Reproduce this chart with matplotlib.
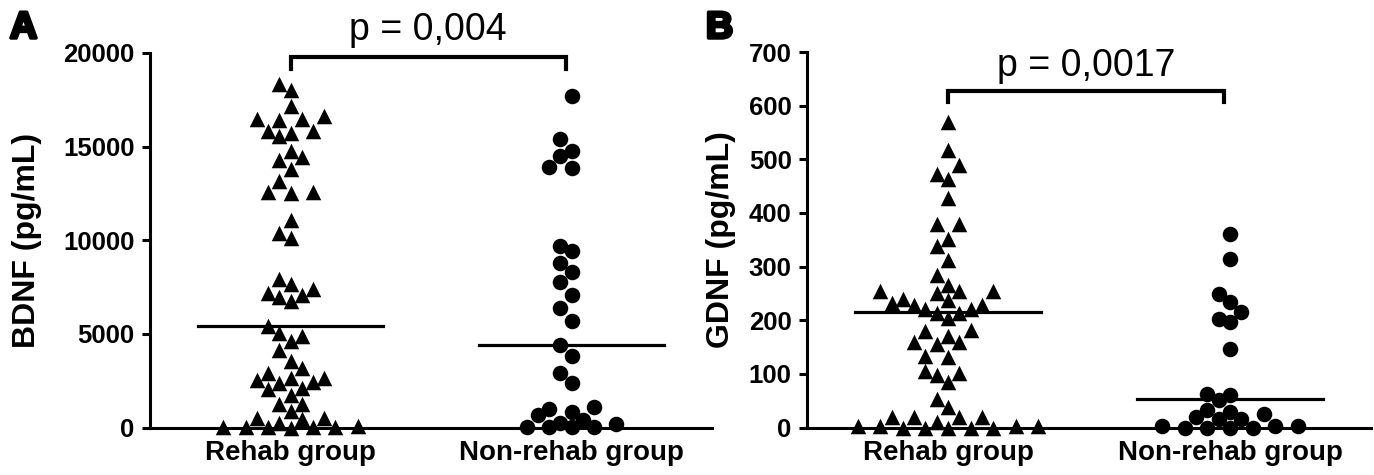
import numpy as np
import matplotlib
matplotlib.use('Agg')
from matplotlib import pyplot as plt
import matplotlib.patheffects as pe

plt.rcParams['font.family'] = ['Liberation Sans', 'DejaVu Sans']

# Data
groups = ["Rehab group", "Non-rehab group"]

bdnf_rehab = [18330, 18050, 17150, 16620, 16500, 16410, 16500, 15820, 15750, 15550,
              15820, 14420, 14270, 14770, 13790, 13150, 12580, 12500, 12580, 11070,
              10100, 10400, 7690, 7160, 6980, 6770, 7070, 7390, 7910, 5420,
              5030, 4630, 4880, 4140, 3160, 3550, 2390, 2040, 2660, 2530,
              2620, 2890, 2410, 2090, 1730, 1250, 1250, 900, 490, 440,
              260, 490, 80, 50, 20, 0, 20, 30, 50]
bdnf_nonrehab = [17700, 15430, 14770, 14500, 13920, 13880, 9700, 9430, 8790, 8300,
                 7750, 7050, 6360, 5680, 4420, 3830, 2920, 2390, 1080, 840,
                 670, 1000, 400, 190, 40, 30, 40, 50, 220]
bdnf_medians = [5420, 4420]

gdnf_rehab = [570, 518, 489, 473, 463, 427, 379, 379, 352, 339,
              313, 284, 266, 254, 250, 254, 254, 237, 240, 232,
              229, 221, 229, 214, 205, 214, 220, 182, 171, 159,
              156, 159, 179, 134, 131, 106, 97, 101, 84, 53,
              39, 20, 20, 20, 20, 10, 0, 0, 0, 3,
              2, 2, 2, 0, 0]
gdnf_nonrehab = [361, 315, 248, 234, 215, 203, 197, 147, 61, 63,
                 51, 33, 25, 16, 16, 20, 28, 2, 2, 0,
                 0, 0, 0, 2]
gdnf_medians = [215, 53]

p_bdnf = "p = 0,004"
p_gdnf = "p = 0,0017"


def swarm(ax, values, center, ymax, slot=0.08, rx=11.5, ry=15.0):
    """ Simple beeswarm: spread points sideways in half-slot steps until they stop overlapping.
    Overlap is tested with an ellipse (rx, ry in pixels) so rows spread out sideways. """
    bbox = ax.get_window_extent()
    xpx = bbox.width / 2.0          # pixels per x unit (xlim spans 2 units)
    ypx = bbox.height / ymax        # pixels per y unit
    steps = [0]
    for k in range(1, 30):
        steps += [-k * 0.5, k * 0.5]
    placed = []
    xs = np.zeros(len(values))
    for i in np.argsort(values, kind="stable"):
        y = values[i] * ypx
        for s in steps:
            x = s * slot * xpx
            if all(((x - px) / rx) ** 2 + ((y - py) / ry) ** 2 >= 1 for px, py in placed):
                break
        placed.append((x, y))
        xs[i] = center + x / xpx
    return xs


def style_axis(ax, ymax, yticks):
    ax.set_xlim(-0.5, 1.5)
    ax.set_ylim(0, ymax)
    ax.set_yticks(yticks)
    ax.set_xticks([0, 1])
    ax.set_xticklabels(groups, fontsize=20, fontweight="bold")
    for lab in ax.get_yticklabels():
        lab.set_fontsize(18.5)
        lab.set_fontweight("bold")
    ax.spines["top"].set_visible(False)
    ax.spines["right"].set_visible(False)
    ax.spines["left"].set_linewidth(2.2)
    ax.spines["bottom"].set_linewidth(2.2)
    ax.tick_params(axis="y", length=6, width=2.2, pad=5)
    ax.tick_params(axis="x", length=4, width=2.2, pad=5)


def panel(ax, rehab, nonrehab, medians, ymax, yticks, ylabel, label_x, ptext, bracket_y, drop, text_y):
    style_axis(ax, ymax, yticks)
    ax.set_ylabel(ylabel, fontsize=23, fontweight="bold")
    ax.yaxis.set_label_coords(label_x, 0.5)
    x0 = swarm(ax, rehab, 0, ymax)
    x1 = swarm(ax, nonrehab, 1, ymax)
    ax.scatter(x0, rehab, marker="^", s=125, color="black", linewidths=0, clip_on=False, zorder=3)
    ax.scatter(x1, nonrehab, marker="o", s=125, color="black", linewidths=0, clip_on=False, zorder=3)
    for i, m in enumerate(medians):
        ax.plot([i - 0.33, i + 0.33], [m, m], color="black", lw=2.3, zorder=2)
    # significance bracket
    ax.plot([0, 0, 0.98, 0.98], [bracket_y - drop, bracket_y, bracket_y, bracket_y - drop],
            color="black", lw=3, clip_on=False, solid_joinstyle="miter")
    ax.text(0.49, text_y, ptext, ha="center", va="baseline", fontsize=27)


fig = plt.figure(figsize=(13.74, 4.75), dpi=100)
axA = fig.add_axes([150 / 1374, 47.5 / 475, 562 / 1374, 374.5 / 475])
axB = fig.add_axes([807 / 1374, 47.5 / 475, 564 / 1374, 375.5 / 475])

panel(axA, bdnf_rehab, bdnf_nonrehab, bdnf_medians, 20000, range(0, 20001, 5000),
      "BDNF (pg/mL)", -0.192, p_bdnf, 19770, 600, 20720)
panel(axB, gdnf_rehab, gdnf_nonrehab, gdnf_medians, 700, range(0, 701, 100),
      "GDNF (pg/mL)", -0.126, p_gdnf, 627, 20, 656)

# panel letters
for xpos, letter in [(10 / 1374, "A"), (706 / 1374, "B")]:
    fig.text(xpos, 1 - 38 / 475, letter, fontsize=27, fontweight="bold", va="baseline",
             path_effects=[pe.withStroke(linewidth=2.5, foreground="black")])

fig.savefig("out.png", dpi=100)
